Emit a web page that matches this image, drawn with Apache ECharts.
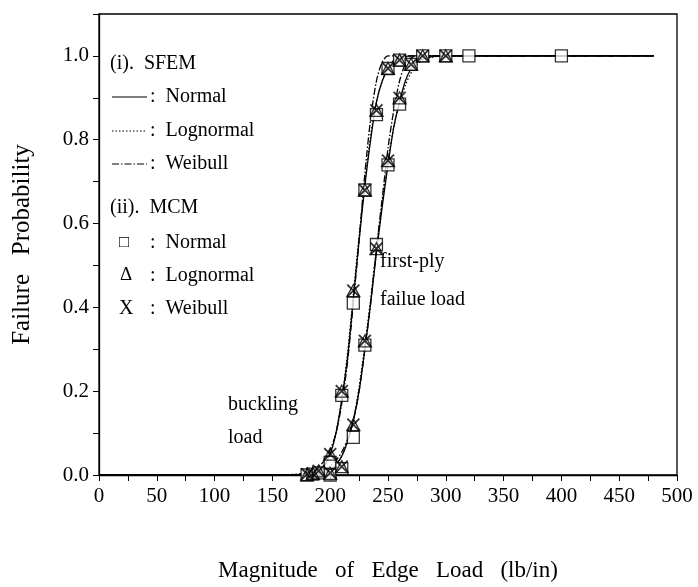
<!DOCTYPE html>
<html>
<head>
<meta charset="utf-8">
<script src="https://cdn.jsdelivr.net/npm/echarts@6/dist/echarts.min.js"></script>
<style>
  html, body { margin: 0; padding: 0; background: #fff; }
  #chart { width: 698px; height: 587px; }
</style>
</head>
<body>
<div id="chart"></div>
<script>
// SFEM curves: shared load grid (lb/in)
const sfemLoad = [0, 150, 170, 180, 190, 195, 200, 205, 210, 215, 220, 225, 230, 235, 240, 245, 250, 255, 260, 265, 270, 275, 280, 290, 300, 480];

// buckling load
const bucklingNormal    = [0, 0, 0.0001, 0.001, 0.009, 0.023, 0.05, 0.1, 0.18, 0.28, 0.42, 0.56, 0.69, 0.8, 0.89, 0.94, 0.97, 0.99, 0.996, 0.999, 1, 1, 1, 1, 1, 1];
const bucklingLognormal = [0, 0, 0, 0.0005, 0.007, 0.02, 0.048, 0.1, 0.18, 0.29, 0.43, 0.57, 0.7, 0.81, 0.89, 0.94, 0.97, 0.985, 0.993, 0.997, 0.999, 1, 1, 1, 1, 1];
const bucklingWeibull   = [0, 0, 0.002, 0.006, 0.02, 0.035, 0.06, 0.1, 0.17, 0.27, 0.41, 0.56, 0.72, 0.85, 0.94, 0.985, 1, 1, 1, 1, 1, 1, 1, 1, 1, 1];

// first-ply failure load
const firstPlyNormal    = [0, 0, 0, 0.0005, 0.003, 0.006, 0.012, 0.025, 0.045, 0.08, 0.13, 0.2, 0.3, 0.41, 0.53, 0.64, 0.74, 0.83, 0.89, 0.94, 0.97, 0.985, 0.993, 0.999, 1, 1];
const firstPlyLognormal = [0, 0, 0, 0.0003, 0.002, 0.005, 0.011, 0.024, 0.045, 0.08, 0.13, 0.21, 0.31, 0.42, 0.54, 0.65, 0.75, 0.83, 0.89, 0.93, 0.96, 0.98, 0.99, 0.998, 1, 1];
const firstPlyWeibull   = [0, 0, 0.001, 0.003, 0.008, 0.013, 0.022, 0.035, 0.055, 0.085, 0.13, 0.2, 0.3, 0.41, 0.54, 0.66, 0.78, 0.87, 0.94, 0.98, 0.995, 1, 1, 1, 1, 1];

// MCM points
const mcmBucklingLoad = [180, 185, 190, 200, 210, 220, 230, 240, 250, 260];
const mcmFirstPlyLoad = [200, 210, 220, 230, 240, 250, 260, 270];
const mcmTopLoad = [280, 300];

const squareBuckling = [0, 0.002, 0.005, 0.03, 0.19, 0.41, 0.68, 0.86, 0.97, 0.99];
const squareFirstPly = [0, 0.015, 0.09, 0.31, 0.55, 0.74, 0.885, 0.98];
const squareTop = [1, 1];
const squareExtraLoad = [320, 400];
const squareExtra = [1, 1];

const triBuckling = [0.001, 0.004, 0.01, 0.05, 0.2, 0.44, 0.68, 0.87, 0.97, 0.99];
const triFirstPly = [0.004, 0.02, 0.12, 0.32, 0.54, 0.75, 0.9, 0.98];
const triTop = [1, 1];

const xBuckling = [0.002, 0.004, 0.01, 0.05, 0.2, 0.44, 0.68, 0.87, 0.97, 0.99];
const xFirstPly = [0.005, 0.02, 0.12, 0.32, 0.54, 0.75, 0.9, 0.98];
const xTop = [1, 1];

const xTicks = [0, 50, 100, 150, 200, 250, 300, 350, 400, 450, 500];

const FONT = 'Liberation Serif';

const zip = (xs, ys) => xs.map((x, i) => [x, ys[i]]);
const pts = (groups) => groups.flatMap(([xs, ys]) => zip(xs, ys));

const lineSeries = (name, ys, type) => ({
  name: name,
  type: 'line',
  data: zip(sfemLoad, ys),
  smooth: 0.3,
  symbol: 'none',
  lineStyle: { color: '#000', width: 1.3, type: type },
  z: 3
});

const DASHDOT = [7, 2, 1.5, 2];

const chart = echarts.init(document.getElementById('chart'));

const legendY = [64, 97, 131, 164, 208, 243, 276, 309];
const txt = (x, y, s, size) => ({ type: 'text', left: x, top: y - 11, style: { text: s, font: (size || 20) + 'px ' + FONT, fill: '#000' } });
const graphic = [
  txt(110, legendY[0] + 1, '(i).  SFEM'),
  { type: 'line', shape: { x1: 112, y1: legendY[1], x2: 147, y2: legendY[1] }, style: { stroke: '#000', lineWidth: 1.2 } },
  { type: 'line', shape: { x1: 112, y1: legendY[2], x2: 147, y2: legendY[2] }, style: { stroke: '#000', lineWidth: 1.2, lineDash: [1.5, 2] } },
  { type: 'line', shape: { x1: 112, y1: legendY[3], x2: 147, y2: legendY[3] }, style: { stroke: '#000', lineWidth: 1.2, lineDash: DASHDOT } },
  txt(150, legendY[1] + 1, ':  Normal'),
  txt(150, legendY[2] + 1, ':  Lognormal'),
  txt(150, legendY[3] + 1, ':  Weibull'),
  txt(110, legendY[4] + 1, '(ii).  MCM'),
  txt(119, legendY[5] + 2, '\u25A1', 17),
  txt(120, legendY[6] + 1, '\u0394', 19),
  txt(119, legendY[7] + 1, 'X'),
  txt(150, legendY[5] + 1, ':  Normal'),
  txt(150, legendY[6] + 1, ':  Lognormal'),
  txt(150, legendY[7] + 1, ':  Weibull'),
  txt(380, 263, 'first-ply'),
  txt(380, 301, 'failue load'),
  txt(228, 406, 'buckling'),
  txt(228, 439, 'load')
];

chart.setOption({
  backgroundColor: '#fff',
  animation: false,
  textStyle: { fontFamily: FONT, color: '#000' },
  grid: { left: 99, right: 21, top: 14, bottom: 112, outerBoundsMode: 'none', containLabel: false,
    show: true, borderColor: '#000', borderWidth: 1.3 },
  xAxis: {
    type: 'value',
    min: 0, max: 500, interval: 50,
    name: 'Magnitude   of   Edge   Load   (lb/in)',
    nameLocation: 'middle',
    nameGap: 84,
    nameTextStyle: { fontFamily: FONT, fontSize: 23, color: '#000' },
    axisLine: { show: true, lineStyle: { color: '#000', width: 1.3 } },
    axisTick: { show: true, inside: false, length: 6, lineStyle: { color: '#000' } },
    minorTick: { show: true, splitNumber: 2, length: 6, lineStyle: { color: '#000' } },
    axisLabel: { fontFamily: FONT, fontSize: 21, color: '#000', margin: 11,
      formatter: v => xTicks.includes(v) ? String(v) : '' },
    splitLine: { show: false }
  },
  yAxis: {
    type: 'value',
    min: 0, max: 1.1, interval: 0.2,
    name: 'Failure   Probability',
    nameLocation: 'middle',
    nameGap: 64,
    nameTextStyle: { fontFamily: FONT, fontSize: 25, color: '#000' },
    axisLine: { show: true, lineStyle: { color: '#000', width: 1.3 } },
    axisTick: { show: true, inside: false, length: 6, lineStyle: { color: '#000' } },
    minorTick: { show: true, splitNumber: 2, length: 6, lineStyle: { color: '#000' } },
    axisLabel: { fontFamily: FONT, fontSize: 21, color: '#000', margin: 10, showMaxLabel: false,
      formatter: v => v > 1.05 ? '' : v.toFixed(1) },
    splitLine: { show: false }
  },
  graphic: graphic,
  series: [
    lineSeries('SFEM Normal (buckling)', bucklingNormal, 'solid'),
    lineSeries('SFEM Lognormal (buckling)', bucklingLognormal, [1.5, 2]),
    lineSeries('SFEM Weibull (buckling)', bucklingWeibull, DASHDOT),
    lineSeries('SFEM Normal (first-ply)', firstPlyNormal, 'solid'),
    lineSeries('SFEM Lognormal (first-ply)', firstPlyLognormal, [1.5, 2]),
    lineSeries('SFEM Weibull (first-ply)', firstPlyWeibull, DASHDOT),
    {
      name: 'MCM Normal', type: 'scatter', symbol: 'rect', symbolSize: 12,
      itemStyle: { color: '#fff', borderColor: '#000', borderWidth: 1.3 },
      data: pts([[mcmBucklingLoad, squareBuckling], [mcmFirstPlyLoad, squareFirstPly], [mcmTopLoad, squareTop], [squareExtraLoad, squareExtra]]),
      z: 4
    },
    {
      name: 'MCM Lognormal', type: 'scatter', symbol: 'triangle', symbolSize: [13, 12],
      itemStyle: { color: 'rgba(255,255,255,0)', borderColor: '#000', borderWidth: 1.3 },
      data: pts([[mcmBucklingLoad, triBuckling], [mcmFirstPlyLoad, triFirstPly], [mcmTopLoad, triTop]]),
      z: 5
    },
    {
      name: 'MCM Weibull', type: 'scatter', symbol: 'path://M0,0L10,10M10,0L0,10', symbolSize: 12,
      itemStyle: { color: 'none', borderColor: '#000', borderWidth: 1.8 },
      data: pts([[mcmBucklingLoad, xBuckling], [mcmFirstPlyLoad, xFirstPly], [mcmTopLoad, xTop]]),
      z: 6
    }
  ]
});
</script>
</body>
</html>
